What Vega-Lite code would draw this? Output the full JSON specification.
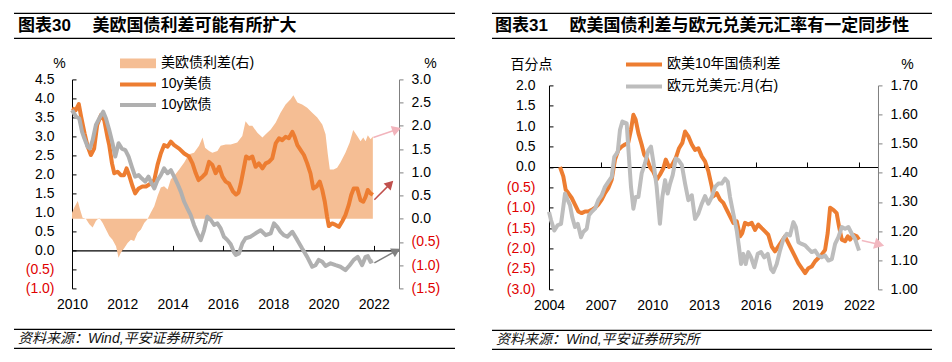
{
"$schema": "https://vega.github.io/schema/vega-lite/v6.json",
"padding": {"left": 13, "top": 12.4, "right": 0, "bottom": 0},
"background": "#ffffff",
"config": {
 "view": {"stroke": null},
 "font": "Liberation Sans, Noto Sans CJK SC",
 "axis": {"grid": false, "labelFontSize": 14, "labelColor": "#000000", "labelFont": "Liberation Sans, Noto Sans CJK SC", "titleFontSize": 14, "titleFont": "Liberation Sans, Noto Sans CJK SC", "titleFontWeight": "normal", "titleColor": "#000000", "labelFlush": false, "labelOverlap": false, "domainWidth": 1, "tickWidth": 1},
 "legend": {"labelFontSize": 14, "labelFont": "Liberation Sans, Noto Sans CJK SC", "labelColor": "#000000", "padding": 0}
},
"datasets": {
 "us": [
  {"d":2010.0,"v":3.74},{"d":2010.15,"v":3.69},{"d":2010.27,"v":3.85},{"d":2010.36,"v":3.53},{"d":2010.5,"v":3.08},{"d":2010.62,"v":2.74},{"d":2010.75,"v":2.51},{"d":2010.88,"v":2.68},{"d":2011.0,"v":3.30},{"d":2011.15,"v":3.56},{"d":2011.28,"v":3.43},{"d":2011.42,"v":2.95},{"d":2011.48,"v":2.77},{"d":2011.59,"v":2.29},{"d":2011.68,"v":2.03},{"d":2011.81,"v":2.07},{"d":2011.94,"v":1.98},{"d":2012.07,"v":1.98},{"d":2012.17,"v":2.16},{"d":2012.27,"v":1.98},{"d":2012.41,"v":1.68},{"d":2012.51,"v":1.50},{"d":2012.65,"v":1.63},{"d":2012.8,"v":1.68},{"d":2012.94,"v":1.68},{"d":2013.13,"v":1.76},{"d":2013.27,"v":1.85},{"d":2013.4,"v":2.25},{"d":2013.53,"v":2.55},{"d":2013.66,"v":2.77},{"d":2013.8,"v":2.73},{"d":2013.93,"v":2.86},{"d":2014.06,"v":2.77},{"d":2014.26,"v":2.68},{"d":2014.46,"v":2.55},{"d":2014.65,"v":2.47},{"d":2014.79,"v":2.29},{"d":2014.92,"v":2.03},{"d":2015.03,"v":1.85},{"d":2015.19,"v":1.94},{"d":2015.32,"v":2.03},{"d":2015.45,"v":2.33},{"d":2015.58,"v":2.25},{"d":2015.71,"v":2.03},{"d":2015.85,"v":2.20},{"d":2015.98,"v":1.94},{"d":2016.11,"v":1.81},{"d":2016.24,"v":1.76},{"d":2016.4,"v":1.55},{"d":2016.52,"v":1.47},{"d":2016.62,"v":1.52},{"d":2016.71,"v":1.76},{"d":2016.84,"v":2.20},{"d":2016.92,"v":2.47},{"d":2017.04,"v":2.42},{"d":2017.17,"v":2.47},{"d":2017.3,"v":2.20},{"d":2017.43,"v":2.29},{"d":2017.57,"v":2.16},{"d":2017.7,"v":2.29},{"d":2017.83,"v":2.33},{"d":2017.96,"v":2.42},{"d":2018.1,"v":2.82},{"d":2018.23,"v":2.95},{"d":2018.36,"v":2.90},{"d":2018.49,"v":2.99},{"d":2018.62,"v":2.95},{"d":2018.76,"v":3.12},{"d":2018.85,"v":2.99},{"d":2018.96,"v":2.77},{"d":2019.09,"v":2.64},{"d":2019.22,"v":2.51},{"d":2019.35,"v":2.29},{"d":2019.48,"v":2.03},{"d":2019.59,"v":1.63},{"d":2019.72,"v":1.68},{"d":2019.85,"v":1.81},{"d":2019.95,"v":1.59},{"d":2020.05,"v":1.28},{"d":2020.14,"v":0.89},{"d":2020.21,"v":0.64},{"d":2020.34,"v":0.71},{"d":2020.48,"v":0.67},{"d":2020.61,"v":0.62},{"d":2020.74,"v":0.76},{"d":2020.87,"v":0.93},{"d":2021.0,"v":1.19},{"d":2021.1,"v":1.46},{"d":2021.2,"v":1.63},{"d":2021.34,"v":1.63},{"d":2021.47,"v":1.32},{"d":2021.58,"v":1.28},{"d":2021.67,"v":1.41},{"d":2021.76,"v":1.59},{"d":2021.87,"v":1.50},{"d":2021.96,"v":1.46}
 ],
 "eu": [
  {"d":2010.0,"v":3.69},{"d":2010.16,"v":3.52},{"d":2010.29,"v":3.47},{"d":2010.4,"v":3.12},{"d":2010.49,"v":2.95},{"d":2010.62,"v":2.73},{"d":2010.71,"v":2.68},{"d":2010.82,"v":2.90},{"d":2010.95,"v":3.30},{"d":2011.08,"v":3.47},{"d":2011.24,"v":3.65},{"d":2011.35,"v":3.47},{"d":2011.48,"v":3.17},{"d":2011.61,"v":2.82},{"d":2011.72,"v":2.47},{"d":2011.85,"v":2.82},{"d":2011.98,"v":2.68},{"d":2012.12,"v":2.64},{"d":2012.25,"v":2.47},{"d":2012.38,"v":2.20},{"d":2012.51,"v":1.94},{"d":2012.65,"v":1.98},{"d":2012.78,"v":1.89},{"d":2012.91,"v":1.81},{"d":2013.04,"v":1.94},{"d":2013.17,"v":1.76},{"d":2013.27,"v":1.63},{"d":2013.4,"v":1.85},{"d":2013.53,"v":1.98},{"d":2013.66,"v":2.16},{"d":2013.8,"v":2.03},{"d":2013.93,"v":2.11},{"d":2014.06,"v":1.94},{"d":2014.19,"v":1.76},{"d":2014.33,"v":1.54},{"d":2014.46,"v":1.28},{"d":2014.59,"v":1.10},{"d":2014.72,"v":0.93},{"d":2014.85,"v":0.67},{"d":2014.99,"v":0.45},{"d":2015.12,"v":0.27},{"d":2015.25,"v":0.53},{"d":2015.38,"v":0.89},{"d":2015.52,"v":0.80},{"d":2015.65,"v":0.67},{"d":2015.78,"v":0.71},{"d":2015.91,"v":0.58},{"d":2016.04,"v":0.36},{"d":2016.18,"v":0.27},{"d":2016.31,"v":0.16},{"d":2016.44,"v":-0.05},{"d":2016.51,"v":-0.12},{"d":2016.64,"v":-0.08},{"d":2016.77,"v":0.18},{"d":2016.9,"v":0.32},{"d":2017.1,"v":0.36},{"d":2017.3,"v":0.45},{"d":2017.5,"v":0.53},{"d":2017.7,"v":0.40},{"d":2017.9,"v":0.45},{"d":2018.03,"v":0.71},{"d":2018.16,"v":0.62},{"d":2018.29,"v":0.49},{"d":2018.42,"v":0.40},{"d":2018.56,"v":0.36},{"d":2018.76,"v":0.49},{"d":2018.96,"v":0.27},{"d":2019.15,"v":0.05},{"d":2019.35,"v":-0.17},{"d":2019.55,"v":-0.43},{"d":2019.68,"v":-0.39},{"d":2019.81,"v":-0.25},{"d":2019.95,"v":-0.30},{"d":2020.08,"v":-0.41},{"d":2020.28,"v":-0.34},{"d":2020.48,"v":-0.39},{"d":2020.67,"v":-0.43},{"d":2020.87,"v":-0.52},{"d":2021.04,"v":-0.39},{"d":2021.2,"v":-0.25},{"d":2021.36,"v":-0.17},{"d":2021.53,"v":-0.39},{"d":2021.67,"v":-0.17},{"d":2021.76,"v":-0.15},{"d":2021.87,"v":-0.30},{"d":2021.96,"v":-0.27}
 ],
 "sp": [
  {"d":2010.0,"v":0.13},{"d":2010.09,"v":0.24},{"d":2010.23,"v":0.38},{"d":2010.32,"v":0.20},{"d":2010.42,"v":0.02},{"d":2010.55,"v":0.0},{"d":2010.69,"v":-0.12},{"d":2010.82,"v":-0.19},{"d":2010.95,"v":-0.05},{"d":2011.08,"v":0.02},{"d":2011.22,"v":-0.09},{"d":2011.35,"v":-0.23},{"d":2011.48,"v":-0.37},{"d":2011.61,"v":-0.45},{"d":2011.75,"v":-0.59},{"d":2011.85,"v":-0.84},{"d":2011.94,"v":-0.73},{"d":2012.08,"v":-0.63},{"d":2012.21,"v":-0.52},{"d":2012.34,"v":-0.45},{"d":2012.47,"v":-0.48},{"d":2012.61,"v":-0.30},{"d":2012.74,"v":-0.23},{"d":2012.87,"v":-0.09},{"d":2013.0,"v":-0.01},{"d":2013.13,"v":0.13},{"d":2013.27,"v":0.27},{"d":2013.4,"v":0.49},{"d":2013.53,"v":0.67},{"d":2013.66,"v":0.70},{"d":2013.8,"v":0.63},{"d":2013.93,"v":0.85},{"d":2014.06,"v":0.92},{"d":2014.26,"v":1.06},{"d":2014.46,"v":1.21},{"d":2014.65,"v":1.39},{"d":2014.85,"v":1.42},{"d":2015.05,"v":1.57},{"d":2015.19,"v":1.75},{"d":2015.29,"v":1.53},{"d":2015.45,"v":1.46},{"d":2015.58,"v":1.42},{"d":2015.78,"v":1.46},{"d":2015.91,"v":1.57},{"d":2016.11,"v":1.60},{"d":2016.31,"v":1.60},{"d":2016.57,"v":1.64},{"d":2016.77,"v":1.78},{"d":2016.9,"v":2.10},{"d":2017.04,"v":2.00},{"d":2017.17,"v":2.00},{"d":2017.37,"v":1.85},{"d":2017.57,"v":1.75},{"d":2017.7,"v":1.82},{"d":2017.9,"v":1.92},{"d":2018.1,"v":2.07},{"d":2018.29,"v":2.28},{"d":2018.49,"v":2.46},{"d":2018.69,"v":2.57},{"d":2018.8,"v":2.66},{"d":2018.96,"v":2.50},{"d":2019.15,"v":2.46},{"d":2019.35,"v":2.39},{"d":2019.55,"v":2.28},{"d":2019.75,"v":2.18},{"d":2019.95,"v":2.03},{"d":2020.08,"v":1.82},{"d":2020.17,"v":1.39},{"d":2020.25,"v":1.06},{"d":2020.4,"v":1.06},{"d":2020.54,"v":1.10},{"d":2020.67,"v":1.21},{"d":2020.87,"v":1.42},{"d":2021.04,"v":1.64},{"d":2021.18,"v":1.91},{"d":2021.34,"v":1.78},{"d":2021.47,"v":1.67},{"d":2021.58,"v":1.75},{"d":2021.67,"v":1.67},{"d":2021.76,"v":1.80},{"d":2021.87,"v":1.71},{"d":2021.96,"v":1.77}
 ],
 "eus": [
  {"d":2004.64,"v":0.0},{"d":2004.83,"v":-0.23},{"d":2004.97,"v":-0.56},{"d":2005.12,"v":-0.64},{"d":2005.32,"v":-0.76},{"d":2005.51,"v":-0.92},{"d":2005.7,"v":-1.09},{"d":2005.9,"v":-1.13},{"d":2006.09,"v":-1.09},{"d":2006.28,"v":-1.09},{"d":2006.48,"v":-1.05},{"d":2006.67,"v":-1.0},{"d":2006.86,"v":-0.92},{"d":2007.06,"v":-0.8},{"d":2007.25,"v":-0.64},{"d":2007.44,"v":-0.52},{"d":2007.64,"v":-0.31},{"d":2007.83,"v":0.18},{"d":2008.03,"v":0.42},{"d":2008.22,"v":0.5},{"d":2008.41,"v":0.55},{"d":2008.6,"v":0.59},{"d":2008.76,"v":0.91},{"d":2008.9,"v":1.28},{"d":2009.03,"v":1.16},{"d":2009.19,"v":0.83},{"d":2009.38,"v":0.55},{"d":2009.53,"v":0.3},{"d":2009.67,"v":0.22},{"d":2009.86,"v":0.0},{"d":2010.05,"v":-0.11},{"d":2010.25,"v":-0.31},{"d":2010.44,"v":-0.19},{"d":2010.64,"v":-0.03},{"d":2010.78,"v":0.18},{"d":2010.97,"v":0.0},{"d":2011.16,"v":0.06},{"d":2011.36,"v":0.22},{"d":2011.55,"v":0.46},{"d":2011.74,"v":0.59},{"d":2011.9,"v":0.87},{"d":2012.09,"v":0.75},{"d":2012.29,"v":0.55},{"d":2012.48,"v":0.42},{"d":2012.67,"v":0.46},{"d":2012.87,"v":0.26},{"d":2013.06,"v":0.14},{"d":2013.25,"v":-0.1},{"d":2013.45,"v":-0.48},{"d":2013.54,"v":-0.72},{"d":2013.74,"v":-0.64},{"d":2013.93,"v":-0.8},{"d":2014.12,"v":-0.88},{"d":2014.32,"v":-1.05},{"d":2014.51,"v":-1.21},{"d":2014.7,"v":-1.37},{"d":2014.9,"v":-1.33},{"d":2015.09,"v":-1.7},{"d":2015.22,"v":-1.62},{"d":2015.38,"v":-1.37},{"d":2015.57,"v":-1.41},{"d":2015.77,"v":-1.37},{"d":2015.96,"v":-1.54},{"d":2016.15,"v":-1.41},{"d":2016.35,"v":-1.5},{"d":2016.54,"v":-1.58},{"d":2016.73,"v":-1.66},{"d":2016.93,"v":-1.95},{"d":2017.12,"v":-2.07},{"d":2017.31,"v":-1.95},{"d":2017.51,"v":-1.82},{"d":2017.7,"v":-1.7},{"d":2017.9,"v":-1.87},{"d":2018.09,"v":-2.03},{"d":2018.28,"v":-2.19},{"d":2018.48,"v":-2.36},{"d":2018.67,"v":-2.48},{"d":2018.87,"v":-2.6},{"d":2019.06,"v":-2.48},{"d":2019.25,"v":-2.44},{"d":2019.45,"v":-2.31},{"d":2019.64,"v":-2.23},{"d":2019.83,"v":-2.15},{"d":2020.03,"v":-2.03},{"d":2020.18,"v":-1.62},{"d":2020.32,"v":-1.0},{"d":2020.51,"v":-1.05},{"d":2020.7,"v":-1.13},{"d":2020.84,"v":-1.46},{"d":2021.0,"v":-1.78},{"d":2021.19,"v":-1.82},{"d":2021.35,"v":-1.7},{"d":2021.48,"v":-1.78},{"d":2021.67,"v":-1.66},{"d":2021.87,"v":-1.7},{"d":2022.0,"v":-1.78}
 ],
 "fx": [
  {"d":2004.0,"v":1.266},{"d":2004.12,"v":1.237},{"d":2004.31,"v":1.202},{"d":2004.5,"v":1.22},{"d":2004.7,"v":1.225},{"d":2004.83,"v":1.283},{"d":2004.93,"v":1.329},{"d":2005.09,"v":1.306},{"d":2005.22,"v":1.289},{"d":2005.35,"v":1.248},{"d":2005.51,"v":1.214},{"d":2005.67,"v":1.225},{"d":2005.86,"v":1.179},{"d":2005.99,"v":1.197},{"d":2006.19,"v":1.208},{"d":2006.32,"v":1.254},{"d":2006.48,"v":1.266},{"d":2006.67,"v":1.277},{"d":2006.86,"v":1.306},{"d":2007.06,"v":1.323},{"d":2007.25,"v":1.352},{"d":2007.44,"v":1.369},{"d":2007.64,"v":1.386},{"d":2007.79,"v":1.455},{"d":2007.99,"v":1.472},{"d":2008.12,"v":1.547},{"d":2008.26,"v":1.576},{"d":2008.51,"v":1.57},{"d":2008.6,"v":1.49},{"d":2008.76,"v":1.352},{"d":2008.9,"v":1.277},{"d":2009.03,"v":1.317},{"d":2009.19,"v":1.317},{"d":2009.38,"v":1.398},{"d":2009.57,"v":1.432},{"d":2009.77,"v":1.478},{"d":2009.92,"v":1.49},{"d":2010.06,"v":1.438},{"d":2010.25,"v":1.352},{"d":2010.44,"v":1.225},{"d":2010.58,"v":1.317},{"d":2010.74,"v":1.375},{"d":2010.89,"v":1.329},{"d":2011.03,"v":1.363},{"d":2011.18,"v":1.392},{"d":2011.36,"v":1.449},{"d":2011.51,"v":1.444},{"d":2011.71,"v":1.427},{"d":2011.9,"v":1.363},{"d":2012.09,"v":1.306},{"d":2012.29,"v":1.323},{"d":2012.48,"v":1.242},{"d":2012.67,"v":1.26},{"d":2012.87,"v":1.294},{"d":2013.06,"v":1.32},{"d":2013.25,"v":1.294},{"d":2013.45,"v":1.317},{"d":2013.64,"v":1.352},{"d":2013.83,"v":1.363},{"d":2014.03,"v":1.363},{"d":2014.22,"v":1.38},{"d":2014.38,"v":1.369},{"d":2014.51,"v":1.317},{"d":2014.7,"v":1.26},{"d":2014.9,"v":1.202},{"d":2015.03,"v":1.145},{"d":2015.15,"v":1.087},{"d":2015.28,"v":1.122},{"d":2015.42,"v":1.087},{"d":2015.57,"v":1.128},{"d":2015.73,"v":1.11},{"d":2015.92,"v":1.076},{"d":2016.12,"v":1.122},{"d":2016.31,"v":1.128},{"d":2016.5,"v":1.11},{"d":2016.7,"v":1.122},{"d":2016.89,"v":1.07},{"d":2017.02,"v":1.059},{"d":2017.22,"v":1.087},{"d":2017.41,"v":1.133},{"d":2017.61,"v":1.173},{"d":2017.8,"v":1.191},{"d":2017.99,"v":1.185},{"d":2018.19,"v":1.231},{"d":2018.33,"v":1.214},{"d":2018.48,"v":1.162},{"d":2018.67,"v":1.156},{"d":2018.87,"v":1.151},{"d":2019.06,"v":1.139},{"d":2019.25,"v":1.128},{"d":2019.45,"v":1.133},{"d":2019.64,"v":1.116},{"d":2019.83,"v":1.11},{"d":2020.03,"v":1.116},{"d":2020.22,"v":1.099},{"d":2020.42,"v":1.104},{"d":2020.61,"v":1.156},{"d":2020.8,"v":1.179},{"d":2021.0,"v":1.214},{"d":2021.19,"v":1.208},{"d":2021.38,"v":1.214},{"d":2021.58,"v":1.191},{"d":2021.77,"v":1.173},{"d":2022.0,"v":1.133}
 ],
 "arr1": [
  {"k":"p","x":2021.98,"y":1.75,"x2":2022.91,"y2":1.92},
  {"k":"r","x":2022.02,"y":0.41,"x2":2022.65,"y2":0.75},
  {"k":"g","x":2022.02,"y":-0.95,"x2":2022.89,"y2":-0.69}
 ]
},
"spacing": 35,
"resolve": {"scale": {"stroke": "independent", "fill": "independent", "color": "independent"}, "legend": {"stroke": "independent", "fill": "independent", "color": "independent"}},
"hconcat": [
 {"spacing": 17,
  "resolve": {"scale": {"stroke": "independent", "fill": "independent", "color": "independent"}, "legend": {"stroke": "independent", "fill": "independent", "color": "independent"}},
  "vconcat": [
  {"width": 327, "height": 25, "layer": [
   {"data": {"values": [{"a":0,"b":1,"y":0},{"a":0,"b":1,"y":1}]},
    "mark": {"type":"rule","color":"#000000","strokeWidth":1.2},
    "encoding": {"x": {"field":"a","type":"quantitative","scale":{"domain":[0,1],"range":[-58,383],"nice":false},"axis":null},"x2":{"field":"b"},"y":{"field":"y","type":"quantitative","scale":{"domain":[0,1],"nice":false},"axis":null}}},
   {"data": {"values": [{"a":0,"y":0.5,"t":"图表30\u3000\u00a0美欧国债利差可能有所扩大"}]},
    "mark": {"type":"text","align":"left","baseline":"middle","dx":4,"fontSize":17,"fontWeight":"bold","font":"Liberation Sans, Noto Sans CJK SC","color":"#000000"},
    "encoding": {"x": {"field":"a","type":"quantitative","scale":{"domain":[0,1],"range":[-58,383],"nice":false},"axis":null},"y":{"field":"y","type":"quantitative","scale":{"domain":[0,1],"nice":false},"axis":null},"text":{"field":"t"}}}
  ]},
  {"width": 327, "height": 209,
   "resolve": {"scale": {"y": "independent"}, "axis": {"x": "independent", "y": "independent"}},
   "layer": [
   {"data": {"name": "sp"},
    "mark": {"type": "area"},
    "encoding": {
     "x": {"field": "d", "type": "quantitative", "scale": {"domain": [2010, 2023], "nice": false, "zero": false}, "axis": {"orient": "bottom", "values": [2010,2012,2014,2016,2018,2020,2022], "format": "d", "domain": false, "ticks": false, "labelPadding": 9, "title": null}},
     "y": {"field": "v", "type": "quantitative", "scale": {"domain": [-1.5, 3], "nice": false, "zero": false}, "axis": {"orient": "right", "values": [-1.5,-1,-0.5,0,0.5,1,1.5,2,2.5,3], "domainColor": "#808080", "tickColor": "#808080", "tickSize": 4, "labelPadding": 8, "labelExpr": "datum.value < 0 ? '(' + format(-datum.value, '.1f') + ')' : format(datum.value, '.1f')", "labelColor": {"condition": {"test": "datum.value < 0", "value": "#e00000"}, "value": "#000000"}, "title": "%", "titleAngle": 0, "titleX": 31, "titleY": -16, "titleAlign": "center", "titleBaseline": "middle", "minExtent": 56}},
     "y2": {"datum": 0},
     "fill": {"datum": "美欧债利差(右)", "scale": {"domain": ["美欧债利差(右)"], "range": ["#F5BE94"]}, "legend": {"orient": "none", "legendX": 59, "legendY": -23, "title": null, "direction": "vertical", "symbolType": "M-3,-0.8H3V0.8H-3Z", "symbolSize": 144, "symbolStrokeWidth": 0, "symbolOpacity": 1, "labelOffset": 16}}
    }},
   {"data": {"name": "us"},
    "mark": {"type": "line", "strokeWidth": 4, "strokeJoin": "round"},
    "encoding": {
     "x": {"field": "d", "type": "quantitative", "scale": {"domain": [2010, 2023], "nice": false, "zero": false}, "axis": {"orient": "top", "offset": -171, "values": [2010,2012,2014,2016,2018,2020,2022], "labels": false, "domain": true, "domainColor": "#000000", "domainWidth": 1.2, "ticks": true, "tickColor": "#000000", "tickSize": 5, "title": null}},
     "y": {"field": "v", "type": "quantitative", "scale": {"domain": [-1, 4.5], "nice": false, "zero": false}, "axis": {"orient": "left", "values": [-1,-0.5,0,0.5,1,1.5,2,2.5,3,3.5,4,4.5], "domainColor": "#000000", "tickColor": "#000000", "tickSize": -4, "labelPadding": 22, "labelExpr": "datum.value < 0 ? '(' + format(-datum.value, '.1f') + ')' : format(datum.value, '.1f')", "labelColor": {"condition": {"test": "datum.value < 0", "value": "#e00000"}, "value": "#000000"}, "title": "%", "titleAngle": 0, "titleX": -13, "titleY": -16, "titleAlign": "center", "titleBaseline": "middle", "minExtent": 58}},
     "stroke": {"datum": "10y美债", "scale": {"domain": ["10y美债", "10y欧债"], "range": ["#ED7D31", "#B0B0B0"]}, "legend": {"orient": "none", "legendX": 58, "legendY": -3, "title": null, "direction": "vertical", "symbolType": "M-3,0H3", "symbolSize": 144, "symbolStrokeWidth": 4, "labelOffset": 15, "rowPadding": 4.5}}
    }},
   {"data": {"name": "eu"},
    "mark": {"type": "line", "strokeWidth": 4, "strokeJoin": "round"},
    "encoding": {
     "x": {"field": "d", "type": "quantitative", "scale": {"domain": [2010, 2023], "nice": false, "zero": false}, "axis": null},
     "y": {"field": "v", "type": "quantitative", "scale": {"domain": [-1, 4.5], "nice": false, "zero": false}, "axis": null},
     "stroke": {"datum": "10y欧债"}
    }},
   {"data": {"name": "arr1"},
    "mark": {"type": "rule", "strokeWidth": 1.5},
    "encoding": {
     "x": {"field": "x", "type": "quantitative", "scale": {"domain": [2010, 2023], "nice": false, "zero": false}, "axis": null},
     "x2": {"field": "x2"},
     "y": {"field": "y", "type": "quantitative", "scale": {"domain": [-1.5, 3], "nice": false, "zero": false}, "axis": null},
     "y2": {"field": "y2"},
     "color": {"field": "k", "type": "nominal", "scale": {"domain": ["p","r","g"], "range": ["#F2B4BC", "#C0504D", "#808080"]}, "legend": null}
    }},
   {"data": {"values": [{"x": 2022.91, "y": 1.92}]},
    "mark": {"type": "point", "shape": "triangle-up", "filled": true, "size": 110, "angle": 71, "color": "#F2B4BC", "opacity": 1},
    "encoding": {
     "x": {"field": "x", "type": "quantitative", "scale": {"domain": [2010, 2023], "nice": false, "zero": false}, "axis": null},
     "y": {"field": "y", "type": "quantitative", "scale": {"domain": [-1.5, 3], "nice": false, "zero": false}, "axis": null}
    }},
   {"data": {"values": [{"x": 2022.65, "y": 0.75}]},
    "mark": {"type": "point", "shape": "triangle-up", "filled": true, "size": 100, "angle": 45, "color": "#C0504D", "opacity": 1},
    "encoding": {
     "x": {"field": "x", "type": "quantitative", "scale": {"domain": [2010, 2023], "nice": false, "zero": false}, "axis": null},
     "y": {"field": "y", "type": "quantitative", "scale": {"domain": [-1.5, 3], "nice": false, "zero": false}, "axis": null}
    }},
   {"data": {"values": [{"x": 2022.89, "y": -0.69}]},
    "mark": {"type": "point", "shape": "triangle-up", "filled": true, "size": 100, "angle": 61, "color": "#808080", "opacity": 1},
    "encoding": {
     "x": {"field": "x", "type": "quantitative", "scale": {"domain": [2010, 2023], "nice": false, "zero": false}, "axis": null},
     "y": {"field": "y", "type": "quantitative", "scale": {"domain": [-1.5, 3], "nice": false, "zero": false}, "axis": null}
    }}
  ]},
  {"width": 327, "height": 19, "layer": [
   {"data": {"values": [{"a":0,"b":1,"y":0},{"a":0,"b":1,"y":1}]},
    "mark": {"type":"rule","color":"#000000","strokeWidth":1.2},
    "encoding": {"x": {"field":"a","type":"quantitative","scale":{"domain":[0,1],"range":[-58,383],"nice":false},"axis":null},"x2":{"field":"b"},"y":{"field":"y","type":"quantitative","scale":{"domain":[0,1],"nice":false},"axis":null}}},
   {"data": {"values": [{"a":0,"y":0.5,"t":"资料来源：Wind,平安证券研究所"}]},
    "mark": {"type":"text","align":"left","baseline":"middle","dx":4,"fontSize":14,"fontStyle":"italic","font":"Liberation Sans, Noto Sans CJK SC","color":"#111111"},
    "encoding": {"x": {"field":"a","type":"quantitative","scale":{"domain":[0,1],"range":[-58,383],"nice":false},"axis":null},"y":{"field":"y","type":"quantitative","scale":{"domain":[0,1],"nice":false},"axis":null},"text":{"field":"t"}}}
  ]}
 ]},
 {"spacing": 17,
  "resolve": {"scale": {"stroke": "independent", "fill": "independent", "color": "independent"}, "legend": {"stroke": "independent", "fill": "independent", "color": "independent"}},
  "vconcat": [
  {"width": 329, "height": 25, "layer": [
   {"data": {"values": [{"a":0,"b":1,"y":0},{"a":0,"b":1,"y":1}]},
    "mark": {"type":"rule","color":"#000000","strokeWidth":1.2},
    "encoding": {"x": {"field":"a","type":"quantitative","scale":{"domain":[0,1],"range":[-57,383],"nice":false},"axis":null},"x2":{"field":"b"},"y":{"field":"y","type":"quantitative","scale":{"domain":[0,1],"nice":false},"axis":null}}},
   {"data": {"values": [{"a":0,"y":0.5,"t":"图表31\u3000\u00a0欧美国债利差与欧元兑美元汇率有一定同步性"}]},
    "mark": {"type":"text","align":"left","baseline":"middle","dx":3,"fontSize":17,"fontWeight":"bold","font":"Liberation Sans, Noto Sans CJK SC","color":"#000000"},
    "encoding": {"x": {"field":"a","type":"quantitative","scale":{"domain":[0,1],"range":[-57,383],"nice":false},"axis":null},"y":{"field":"y","type":"quantitative","scale":{"domain":[0,1],"nice":false},"axis":null},"text":{"field":"t"}}}
  ]},
  {"width": 329, "height": 204,
   "resolve": {"scale": {"y": "independent"}, "axis": {"x": "independent", "y": "independent"}},
   "layer": [
   {"data": {"name": "eus"},
    "mark": {"type": "line", "strokeWidth": 4, "strokeJoin": "round"},
    "encoding": {
     "x": {"field": "d", "type": "quantitative", "scale": {"domain": [2004, 2023.1], "nice": false, "zero": false}, "axis": {"orient": "bottom", "values": [2004,2007,2010,2013,2016,2019,2022], "format": "d", "domain": false, "ticks": false, "labelPadding": 9, "title": null}},
     "y": {"field": "v", "type": "quantitative", "scale": {"domain": [-3, 2], "nice": false, "zero": false}, "axis": {"orient": "left", "values": [-3,-2.5,-2,-1.5,-1,-0.5,0,0.5,1,1.5,2], "domainColor": "#000000", "tickColor": "#000000", "tickSize": -4, "labelPadding": 18, "labelExpr": "datum.value < 0 ? '(' + format(-datum.value, '.1f') + ')' : format(datum.value, '.1f')", "labelColor": {"condition": {"test": "datum.value < 0", "value": "#e00000"}, "value": "#000000"}, "title": "百分点", "titleAngle": 0, "titleX": -18, "titleY": -21, "titleAlign": "center", "titleBaseline": "middle", "minExtent": 57}},
     "stroke": {"datum": "欧美10年国债利差", "scale": {"domain": ["欧美10年国债利差", "欧元兑美元:月(右)"], "range": ["#ED7D31", "#BDBDBD"]}, "legend": {"orient": "none", "legendX": 87, "legendY": -29, "title": null, "direction": "vertical", "symbolType": "M-3,0H3", "symbolSize": 144, "symbolStrokeWidth": 4, "labelOffset": 15, "rowPadding": 6}}
    }},
   {"data": {"name": "fx"},
    "mark": {"type": "line", "strokeWidth": 4, "strokeJoin": "round"},
    "encoding": {
     "x": {"field": "d", "type": "quantitative", "scale": {"domain": [2004, 2023.1], "nice": false, "zero": false}, "axis": {"orient": "top", "offset": -81.6, "values": [2004,2007,2010,2013,2016,2019,2022], "labels": false, "domain": true, "domainColor": "#000000", "domainWidth": 1.2, "ticks": true, "tickColor": "#000000", "tickSize": 5, "title": null}},
     "y": {"field": "v", "type": "quantitative", "scale": {"domain": [1.0, 1.7], "nice": false, "zero": false}, "axis": {"orient": "right", "values": [1.0,1.1,1.2,1.3,1.4,1.5,1.6,1.7], "domainColor": "#808080", "tickColor": "#808080", "tickSize": 4, "labelPadding": 8, "format": ".2f", "title": "%", "titleAngle": 0, "titleX": 29, "titleY": -21, "titleAlign": "center", "titleBaseline": "middle", "minExtent": 54}},
     "stroke": {"datum": "欧元兑美元:月(右)"}
    }},
   {"data": {"values": [{"x": 2022.16, "y": 1.168, "x2": 2023.18, "y2": 1.154}]},
    "mark": {"type": "rule", "strokeWidth": 1.5, "color": "#F2B8C0"},
    "encoding": {
     "x": {"field": "x", "type": "quantitative", "scale": {"domain": [2004, 2023.1], "nice": false, "zero": false}, "axis": null},
     "x2": {"field": "x2"},
     "y": {"field": "y", "type": "quantitative", "scale": {"domain": [1.0, 1.7], "nice": false, "zero": false}, "axis": null},
     "y2": {"field": "y2"}
    }},
   {"data": {"values": [{"x": 2023.18, "y": 1.154}]},
    "mark": {"type": "point", "shape": "triangle-up", "filled": true, "size": 130, "angle": 106, "color": "#F2B8C0", "opacity": 1},
    "encoding": {
     "x": {"field": "x", "type": "quantitative", "scale": {"domain": [2004, 2023.1], "nice": false, "zero": false}, "axis": null},
     "y": {"field": "y", "type": "quantitative", "scale": {"domain": [1.0, 1.7], "nice": false, "zero": false}, "axis": null}
    }}
  ]},
  {"width": 329, "height": 19, "layer": [
   {"data": {"values": [{"a":0,"b":1,"y":0},{"a":0,"b":1,"y":1}]},
    "mark": {"type":"rule","color":"#000000","strokeWidth":1.2},
    "encoding": {"x": {"field":"a","type":"quantitative","scale":{"domain":[0,1],"range":[-57,383],"nice":false},"axis":null},"x2":{"field":"b"},"y":{"field":"y","type":"quantitative","scale":{"domain":[0,1],"nice":false},"axis":null}}},
   {"data": {"values": [{"a":0,"y":0.5,"t":"资料来源：Wind,平安证券研究所"}]},
    "mark": {"type":"text","align":"left","baseline":"middle","dx":4,"fontSize":14,"fontStyle":"italic","font":"Liberation Sans, Noto Sans CJK SC","color":"#111111"},
    "encoding": {"x": {"field":"a","type":"quantitative","scale":{"domain":[0,1],"range":[-57,383],"nice":false},"axis":null},"y":{"field":"y","type":"quantitative","scale":{"domain":[0,1],"nice":false},"axis":null},"text":{"field":"t"}}}
  ]}
 ]}
]
}
